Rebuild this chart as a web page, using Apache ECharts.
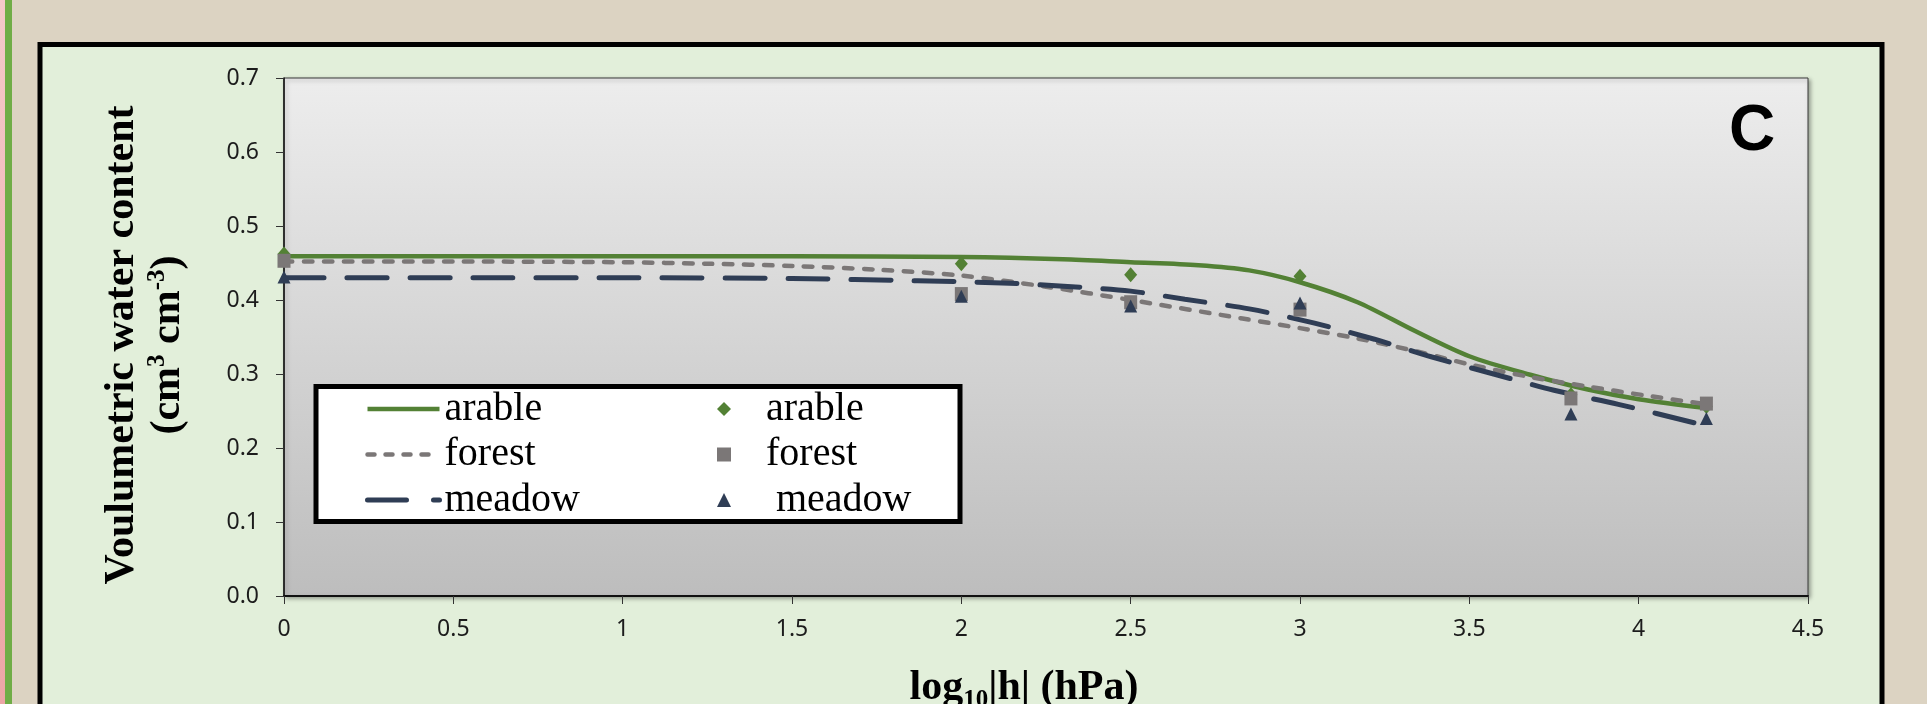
<!DOCTYPE html>
<html><head><meta charset="utf-8">
<script src="https://cdn.jsdelivr.net/npm/echarts@6/dist/echarts.min.js"></script>
<style>html,body{margin:0;padding:0;background:#dcd3c2;} #c{width:1927px;height:704px;}</style>
</head><body><div id="c"></div>
<script>
// ---- data ----
const xTickLabels = ['0', '0.5', '1', '1.5', '2', '2.5', '3', '3.5', '4', '4.5'];
const yTickLabels = ['0.0', '0.1', '0.2', '0.3', '0.4', '0.5', '0.6', '0.7'];

const pointX    = [0, 2, 2.5, 3, 3.8, 4.2];
const arablePts = [0.462, 0.449, 0.434, 0.432, 0.272, 0.256];
const forestPts = [0.453, 0.408, 0.397, 0.387, 0.267, 0.260];
const meadowPts = [0.431, 0.405, 0.392, 0.396, 0.246, 0.240];

const arableCurveX = [0, 0.5, 1, 1.5, 2, 2.3, 2.5, 2.7, 2.85, 3, 3.17, 3.34, 3.5, 3.68, 3.85, 4.0, 4.2];
const arableCurveY = [0.459, 0.459, 0.459, 0.459, 0.458, 0.455, 0.451, 0.447, 0.440, 0.424, 0.397, 0.358, 0.324, 0.299, 0.279, 0.266, 0.254];
const forestCurveX = [0, 0.5, 1, 1.25, 1.5, 1.75, 2, 2.25, 2.5, 2.83, 3, 3.17, 3.34, 3.51, 3.68, 3.85, 4.02, 4.2];
const forestCurveY = [0.452, 0.452, 0.451, 0.449, 0.446, 0.441, 0.433, 0.418, 0.400, 0.375, 0.362, 0.348, 0.331, 0.312, 0.296, 0.283, 0.271, 0.259];
const meadowCurveX = [0, 0.5, 1, 1.5, 1.87, 2.12, 2.29, 2.5, 2.66, 2.85, 3.04, 3.22, 3.39, 3.58, 3.75, 3.94, 4.2];
const meadowCurveY = [0.430, 0.430, 0.430, 0.429, 0.426, 0.423, 0.419, 0.412, 0.401, 0.388, 0.369, 0.347, 0.323, 0.299, 0.278, 0.259, 0.230];

const lineNames = ['arable', 'forest', 'meadow'];
const pointNames = ['arable ', 'forest ', ' meadow'];

// ---- chart ----
const zip = (xs, ys) => xs.map((x, i) => [x, ys[i]]);
const GREEN = '#538135', GRAY = '#7b7777', NAVY = '#2f3d55';
const serif = '"Liberation Serif", "Times New Roman", serif';
const sans = '"Noto Sans", "Open Sans", sans-serif';

const lineStyles = [
  {color: GREEN, width: 4.5},
  {color: GRAY, width: 4.5, type: [8.5, 11.5], cap: 'round'},
  {color: NAVY, width: 5, type: [40, 23], cap: 'round'}
];
const legendLineStyles = [
  {color: GREEN, width: 4.5},
  {color: GRAY, width: 4.5, type: [7, 11], cap: 'round'},
  {color: NAVY, width: 5, type: [39, 27], cap: 'round'}
];
const lineColors = [GREEN, GRAY, NAVY];

const chart = echarts.init(document.getElementById('c'), null, {renderer: 'canvas'});
chart.setOption({
  backgroundColor: '#dcd3c2',
  animation: false,
  graphic: [
    {type: 'rect', z: -10, shape: {x: 0, y: 0, width: 5, height: 704},
     style: {fill: {type: 'linear', x: 0, y: 0, x2: 0, y2: 1, colorStops: [{offset: 0, color: '#f4c9c9'}, {offset: 1, color: '#eca6a6'}]}}},
    {type: 'rect', z: -10, shape: {x: 5, y: 0, width: 7, height: 704}, style: {fill: '#70ad47'}},
    {type: 'rect', z: -9, shape: {x: 40, y: 44.5, width: 1842, height: 720},
     style: {fill: '#e2efda', stroke: '#000', lineWidth: 5}},
    {type: 'rect', z: 3, shape: {x: 316, y: 386.5, width: 644, height: 135},
     style: {fill: '#ffffff', stroke: '#000', lineWidth: 5}},
    {type: 'text', z: 5, x: 1752, y: 132,
     style: {text: 'C', font: 'bold 64px "Liberation Sans", Arial, sans-serif', fill: '#000', textAlign: 'center', textVerticalAlign: 'middle'}}
  ],
  grid: {
    left: 284, top: 78, right: 1927 - 1808, bottom: 704 - 596,
    outerBoundsMode: 'none', containLabel: false,
    show: true, borderColor: '#3a3a3a', borderWidth: 1,
    backgroundColor: {type: 'linear', x: 0, y: 0, x2: 0, y2: 1,
      colorStops: [{offset: 0, color: '#ededed'}, {offset: 1, color: '#bdbdbd'}]},
    shadowColor: 'rgba(0,0,0,0.35)', shadowBlur: 4, shadowOffsetX: 2, shadowOffsetY: 2
  },
  xAxis: {
    type: 'value', min: 0, max: 4.5, interval: 0.5,
    splitLine: {show: false},
    axisLine: {lineStyle: {color: '#111', width: 2}},
    axisTick: {show: true, inside: false, length: 8, lineStyle: {color: '#333', width: 1}},
    axisLabel: {fontFamily: sans, fontSize: 23, color: '#1c1c1c', margin: 22,
      formatter: v => xTickLabels[Math.round(v / 0.5)]},
    name: '{t|log}{sub|10}{t||h| (hPa)}',
    nameLocation: 'middle', nameGap: 68,
    nameTextStyle: {padding: [0, 44, 0, 0], rich: {
      t: {fontFamily: serif, fontWeight: 'bold', fontSize: 42, color: '#000', lineHeight: 49},
      sub: {fontFamily: serif, fontWeight: 'bold', fontSize: 25, color: '#000', lineHeight: 25, verticalAlign: 'bottom'}
    }}
  },
  yAxis: {
    type: 'value', min: 0, max: 0.7, interval: 0.1,
    splitLine: {show: false},
    axisLine: {show: true, lineStyle: {color: '#111', width: 1.5}},
    axisTick: {show: true, inside: false, length: 8, lineStyle: {color: '#333', width: 1}},
    axisLabel: {fontFamily: sans, fontSize: 23, color: '#1c1c1c', margin: 25,
      formatter: v => yTickLabels[Math.round(v / 0.1)]},
    name: '{t|Voulumetric water content}\n{t|(cm}{s|3}{t| cm}{s|-3}{t|)}',
    nameLocation: 'middle', nameRotate: 90, nameGap: 93,
    nameTextStyle: {padding: [0, 16, 0, 0], rich: {
      t: {fontFamily: serif, fontWeight: 'bold', fontSize: 42, color: '#000', lineHeight: 46},
      s: {fontFamily: serif, fontWeight: 'bold', fontSize: 25, color: '#000', lineHeight: 25, verticalAlign: 'top'}
    }}
  },
  legend: [
    {orient: 'vertical', left: 365, top: 389, padding: 0, itemWidth: 72, itemHeight: 14, itemGap: 5.5,
     selectedMode: false, z: 6,
     data: lineNames.map((n, i) => ({name: n, itemStyle: {opacity: 0, color: 'transparent', borderWidth: 0},
       lineStyle: Object.assign({}, legendLineStyles[i])})),
     textStyle: {fontFamily: serif, fontSize: 40, color: '#000', lineHeight: 40}},
    {orient: 'vertical', left: 717, top: 389, padding: 0, itemWidth: 14, itemHeight: 14, itemGap: 5.5,
     selectedMode: false, data: pointNames, z: 6,
     formatter: n => '   ' + n,
     textStyle: {fontFamily: serif, fontSize: 40, color: '#000', lineHeight: 40}}
  ],
  series: [
    {name: lineNames[0], type: 'line', data: zip(arableCurveX, arableCurveY), smooth: 0.3, symbol: 'none',
     lineStyle: lineStyles[0], itemStyle: {color: lineColors[0]}, z: 2},
    {name: lineNames[1], type: 'line', data: zip(forestCurveX, forestCurveY), smooth: 0.3, symbol: 'none',
     lineStyle: lineStyles[1], itemStyle: {color: lineColors[1]}, z: 2},
    {name: lineNames[2], type: 'line', data: zip(meadowCurveX, meadowCurveY), smooth: 0.3, symbol: 'none',
     lineStyle: lineStyles[2], itemStyle: {color: lineColors[2]}, z: 2},
    {name: pointNames[0], type: 'scatter', data: zip(pointX, arablePts), symbol: 'diamond', symbolSize: [13, 15],
     itemStyle: {color: GREEN, opacity: 1}, z: 3},
    {name: pointNames[1], type: 'scatter', data: zip(pointX, forestPts), symbol: 'rect', symbolSize: [13, 14],
     itemStyle: {color: GRAY, opacity: 1}, z: 3},
    {name: pointNames[2], type: 'scatter', data: zip(pointX, meadowPts), symbol: 'triangle', symbolSize: 13,
     itemStyle: {color: NAVY, opacity: 1}, z: 3}
  ]
});
</script></body></html>
